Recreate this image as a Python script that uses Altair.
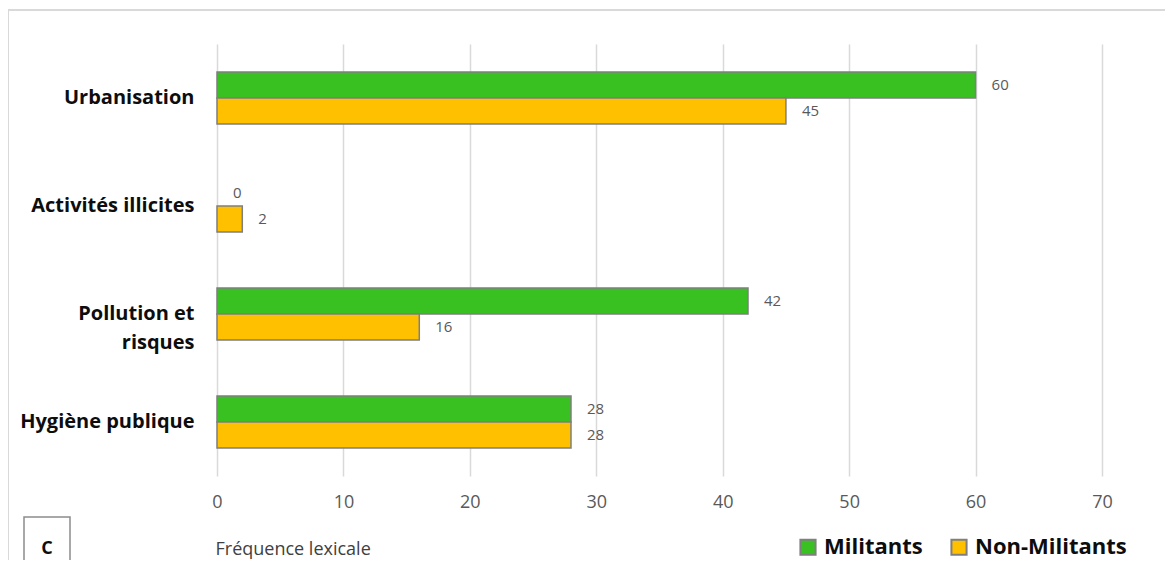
import altair as alt
import pandas as pd

categories = ["Urbanisation", "Activités illicites", "Pollution et|risques\u00a0\u00a0\u00a0\u00a0", "Hygiène publique"]
militants = [60, 0, 42, 28]
non_militants = [45, 2, 16, 28]
groups = ["Militants", "Non-Militants"]
x_ticks = [0, 10, 20, 30, 40, 50, 60, 70]

rows = []
for c, m, n in zip(categories, militants, non_militants):
    rows.append({"cat": c, "group": groups[0], "value": m})
    rows.append({"cat": c, "group": groups[1], "value": n})
df = pd.DataFrame(rows)

FONT = "Open Sans"

y_enc = alt.Y("cat:N", sort=categories, title=None,
              scale=alt.Scale(paddingInner=0.52, paddingOuter=0.26),
              axis=alt.Axis(labelExpr="split(datum.label, '|')", labelFontSize=20,
                            labelFontWeight="bold", labelColor="#0d0d0d", labelFont=FONT,
                            labelPadding=23, labelLineHeight=29, domain=False, ticks=False,
                            grid=False, labelLimit=300))
yoff = alt.YOffset("group:N", sort=groups, scale=alt.Scale(paddingInner=0, paddingOuter=0))
x_enc = alt.X("value:Q", scale=alt.Scale(domain=[0, 70], nice=False),
              axis=alt.Axis(values=x_ticks, title="Fréquence lexicale", titleFont=FONT,
                            titleFontSize=18, titleFontWeight="normal", titleColor="#404040",
                            titleAnchor="start", titleAlign="left", titleBaseline="middle",
                            titleX=-2, titleY=73,
                            labelFont=FONT, labelFontSize=18, labelColor="#595959",
                            labelFlush=False, labelPadding=17, domain=False, ticks=False,
                            grid=True, gridColor="#d9d9d9", gridWidth=1.5))

color = alt.Color("group:N", sort=groups,
                  scale=alt.Scale(domain=groups, range=["#38c120", "#ffc000"]),
                  legend=alt.Legend(title=None, orient="none", direction="horizontal",
                                    legendX=580, legendY=492, symbolType="square",
                                    symbolSize=230, symbolStrokeColor="#7f7f7f",
                                    symbolStrokeWidth=2, labelFont=FONT, labelFontSize=22,
                                    labelFontWeight="bold", labelColor="#0d0d0d",
                                    columnPadding=24, labelOffset=5))

base = alt.Chart(df)
bars = base.mark_bar(stroke="#7f7f7f", strokeWidth=1.5).encode(
    y=y_enc, yOffset=yoff, x=x_enc, color=color).transform_filter("datum.value > 0")
labels = base.mark_text(align="left", baseline="middle", dx=16, font=FONT,
                        fontSize=15, color="#595959").encode(
    y=alt.Y("cat:N", sort=categories), yOffset=alt.YOffset("group:N", sort=groups),
    x="value:Q", text="value:Q")

one = pd.DataFrame({"a": [0]})
frame = alt.Chart(one).mark_rect(fill=None, stroke="#d9d9d9", strokeWidth=2).encode(
    x=alt.value(-209), x2=alt.value(1000), y=alt.value(-34), y2=alt.value(600))
cbox = alt.Chart(one).mark_rect(fill="white", stroke="#8c8c8c", strokeWidth=1.5).encode(
    x=alt.value(24 - 217), x2=alt.value(70 - 217), y=alt.value(517 - 44), y2=alt.value(600))
ctext = alt.Chart(one).mark_text(font=FONT, fontSize=18, fontWeight="bold",
                                 color="#0d0d0d").encode(
    x=alt.value(47 - 217), y=alt.value(549 - 44), text=alt.value("C"))

chart = alt.layer(frame, bars, labels, cbox, ctext).properties(
    width=885, height=432,
    padding={"left": 209, "top": 36, "right": 63, "bottom": 84},
    autosize=alt.AutoSizeParams(type="none"),
).configure(background="white", view=alt.ViewConfig(stroke=None))

chart.save("out.html", embed_options={"renderer": "svg", "actions": False})
